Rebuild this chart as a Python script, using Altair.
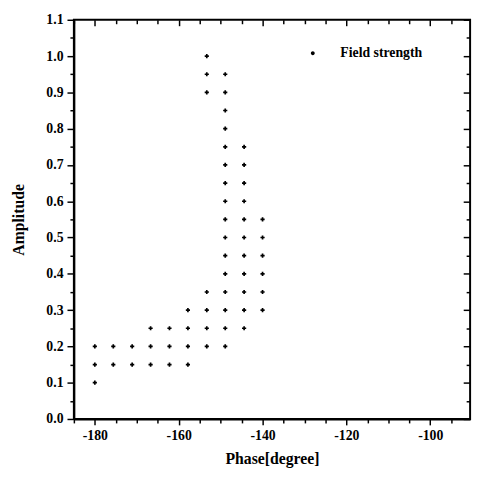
import altair as alt
import pandas as pd

# ---- data ----
phases = [-180, -175.6, -171.1, -166.7, -162.2, -157.8, -153.3, -148.9, -144.4, -140]
amplitudes = [
    [0.10, 0.15, 0.20],
    [0.15, 0.20],
    [0.15, 0.20],
    [0.15, 0.20, 0.25],
    [0.15, 0.20, 0.25],
    [0.15, 0.20, 0.25, 0.30],
    [0.20, 0.25, 0.30, 0.35, 0.90, 0.95, 1.00],
    [0.20, 0.25, 0.30, 0.35, 0.40, 0.45, 0.50, 0.55, 0.60, 0.65, 0.70, 0.75, 0.80, 0.85, 0.90, 0.95],
    [0.25, 0.30, 0.35, 0.40, 0.45, 0.50, 0.55, 0.60, 0.65, 0.70, 0.75],
    [0.30, 0.35, 0.40, 0.45, 0.50, 0.55],
]
series_name = "Field strength"

x_major = [-180, -160, -140, -120, -100]
x_minor = [-185, -175, -170, -165, -155, -150, -145, -135, -130, -125, -115, -110, -105, -95]
y_major = [0.0, 0.1, 0.2, 0.3, 0.4, 0.5, 0.6, 0.7, 0.8, 0.9, 1.0, 1.1]
y_minor = [0.05, 0.15, 0.25, 0.35, 0.45, 0.55, 0.65, 0.75, 0.85, 0.95, 1.05]

rows = []
for p, amps in zip(phases, amplitudes):
    for a in amps:
        rows.append({"phase": p, "amp": a, "series": series_name})
df = pd.DataFrame(rows)

FONT = "Liberation Serif"
x_scale = alt.Scale(domain=[-185, -90.5], nice=False, zero=False)
y_scale = alt.Scale(domain=[0, 1.1], nice=False, zero=False)

base = alt.Chart(df)

points = base.mark_point(shape="cross", filled=True, size=18, opacity=1).encode(
    x=alt.X("phase:Q", scale=x_scale,
            axis=alt.Axis(title="Phase[degree]", values=sorted(x_major + x_minor),
                          labelExpr="datum.value % 20 === 0 ? replace(datum.label, '\u2212', '-') : ''",
                          tickSize={"condition": {"test": "datum.value % 20 === 0", "value": 6}, "value": 4},
                          labelPadding=4, titlePadding=8, grid=False)),
    y=alt.Y("amp:Q", scale=y_scale,
            axis=alt.Axis(title="Amplitude", values=sorted(y_major + y_minor), format=".1f",
                          labelExpr="abs(round(datum.value*10) - datum.value*10) < 0.01 ? datum.label : ''",
                          tickSize={"condition": {"test": "abs(round(datum.value*10) - datum.value*10) < 0.01", "value": 7}, "value": 4},
                          labelPadding=4, titlePadding=20, grid=False)),
    color=alt.Color("series:N", scale=alt.Scale(range=["black"]),
                    legend=alt.Legend(title=None, orient="none", legendX=236, legendY=27,
                                      symbolType="circle", symbolSize=6, symbolFillColor="black",
                                      symbolStrokeColor="black", labelOffset=21,
                                      labelFont=FONT, labelFontSize=14, labelFontWeight="bold",
                                      labelColor="black")),
)

top_major = base.mark_point(opacity=0).encode(
    x=alt.X("phase:Q", scale=x_scale,
            axis=alt.Axis(orient="top", values=x_major, labels=False, domain=False, title=None,
                          tickSize=6, offset=-6, grid=False)),
    y=alt.Y("amp:Q", scale=y_scale,
            axis=alt.Axis(orient="right", values=y_major, labels=False, domain=False, title=None,
                          tickSize=7, offset=-7, grid=False)),
)

top_minor = base.mark_point(opacity=0).encode(
    x=alt.X("phase:Q", scale=x_scale,
            axis=alt.Axis(orient="top", values=x_minor, labels=False, domain=False, title=None,
                          tickSize=4, offset=-4, grid=False)),
    y=alt.Y("amp:Q", scale=y_scale,
            axis=alt.Axis(orient="right", values=y_minor, labels=False, domain=False, title=None,
                          tickSize=4, offset=-4, grid=False)),
)

chart = alt.layer(points, top_major, top_minor).resolve_axis(
    x="independent", y="independent"
).properties(
    width=403, height=406,
    autosize=alt.AutoSizeParams(type="none"),
    padding={"left": 67, "top": 8, "right": 6, "bottom": 54},
    background="white",
).configure_view(
    stroke="black", strokeWidth=2
).configure_axis(
    domainColor="black", domainWidth=2, tickColor="black", tickWidth=1.5,
    labelFont=FONT, labelFontSize=14, labelColor="black", labelFontWeight="bold",
    titleFont=FONT, titleFontSize=16, titleColor="black", titleFontWeight="bold",
)

chart.save("out.html", embed_options={"renderer": "svg", "actions": False})
